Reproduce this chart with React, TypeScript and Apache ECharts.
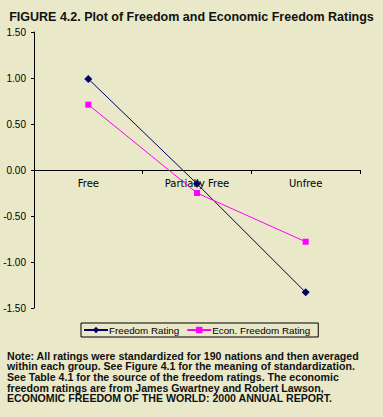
import React, { useEffect, useRef } from "react";
import * as echarts from "echarts";

const categories = ["Free", "Partially Free", "Unfree"];
const freedomRating = [0.99, -0.15, -1.33];
const econFreedomRating = [0.71, -0.25, -0.78];
const titleText = "FIGURE 4.2. Plot of Freedom and Economic Freedom Ratings";
const noteLines = [
  "Note: All ratings were standardized for 190 nations and then averaged",
  "within each group. See Figure 4.1 for the meaning of standardization.",
  "See Table 4.1 for the source of the freedom ratings. The economic",
  "freedom ratings are from James Gwartney and Robert Lawson,",
  "ECONOMIC FREEDOM OF THE WORLD: 2000 ANNUAL REPORT.",
];

export default function App() {
  const ref = useRef<HTMLDivElement>(null);
  useEffect(() => {
    document.body.style.margin = "0";
    const chart = echarts.init(ref.current!, null, { renderer: "svg" });
    chart.setOption({
      animation: false,
      backgroundColor: "#e9e8c8",
      title: {
        text: titleText,
        left: "center",
        top: 5,
        textStyle: {
          fontFamily: "Liberation Sans",
          fontWeight: "bold",
          fontSize: 12.5,
          color: "#111",
        },
      },
      grid: { left: 34, right: 23, top: 32, bottom: 109 },
      legend: {
        left: 81,
        top: 323,
        itemWidth: 24,
        itemHeight: 8,
        itemGap: 7,
        padding: [2, 8, 2, 2],
        borderColor: "#000",
        borderWidth: 1,
        textStyle: { fontFamily: "Liberation Sans", fontSize: 9.8, color: "#000", padding: [0, 0, 0, -4] },
        data: ["Freedom Rating", "Econ. Freedom Rating"],
      },
      xAxis: {
        type: "category",
        data: categories,
        boundaryGap: true,
        position: "bottom",
        offset: -138,
        axisLine: { onZero: false, lineStyle: { color: "#000", width: 1 } },
        axisTick: { show: true, length: 4, inside: false, lineStyle: { color: "#000" } },
        axisLabel: { fontFamily: "DejaVu Sans", fontSize: 10, color: "#000", margin: 8 },
        splitLine: { show: false },
      },
      yAxis: {
        type: "value",
        min: -1.5,
        max: 1.5,
        interval: 0.5,
        axisLine: { show: true, lineStyle: { color: "#000", width: 1 } },
        axisTick: { show: true, length: 3, lineStyle: { color: "#000" } },
        axisLabel: {
          fontFamily: "Liberation Sans",
          fontSize: 10,
          color: "#000",
          margin: 8,
          formatter: (v: number) => v.toFixed(2),
        },
        splitLine: { show: false },
      },
      series: [
        {
          name: "Freedom Rating",
          type: "line",
          data: freedomRating,
          symbol: "diamond",
          symbolSize: 8,
          itemStyle: { color: "#000066" },
          lineStyle: { color: "#000066", width: 1 },
        },
        {
          name: "Econ. Freedom Rating",
          type: "line",
          data: econFreedomRating,
          symbol: "rect",
          symbolSize: 6,
          itemStyle: { color: "#ff00ff" },
          lineStyle: { color: "#ff00ff", width: 1 },
        },
      ],
      graphic: [
        {
          type: "text",
          left: 7,
          top: 350,
          style: {
            text: noteLines.join("\n"),
            fontFamily: "Liberation Sans",
            fontWeight: "bold",
            fontSize: 10.6,
            lineHeight: 10.7,
            fill: "#111",
          },
        },
      ],
    });
    return () => chart.dispose();
  }, []);
  return <div ref={ref} style={{ width: 383, height: 417 }} />;
}
